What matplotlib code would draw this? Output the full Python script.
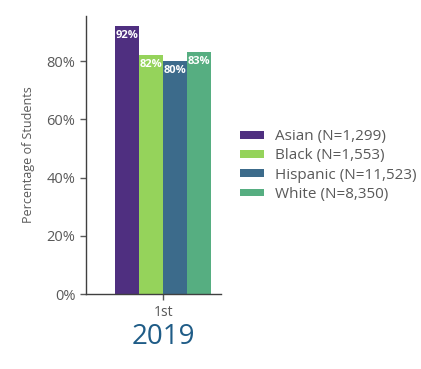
import numpy as np
import matplotlib
matplotlib.use('Agg')
import matplotlib.pyplot as plt
from matplotlib.ticker import FuncFormatter

plt.rcParams['font.family'] = ['Open Sans', 'DejaVu Sans']

# data
groups = ['Asian (N=1,299)', 'Black (N=1,553)', 'Hispanic (N=11,523)', 'White (N=8,350)']
values = [92, 82, 80, 83]
colors = ['#4f2f80', '#95d35b', '#3c6b8b', '#56ae81']
grade = '1st'
year = '2019'

fig = plt.figure(figsize=(4.21, 3.69), dpi=100)
ax = fig.add_axes([0.204, 0.203, 0.321, 0.754])

w = 0.2
offsets = (np.arange(len(values)) - 1.5) * w
for i in range(len(values)):
    ax.bar(offsets[i], values[i], width=w, color=colors[i], label=groups[i])
    ax.text(offsets[i], values[i] - 1.3, '{}%'.format(values[i]), ha='center', va='top',
            color='white', fontsize=8, fontweight='bold')

ax.set_xlim(-0.64, 0.48)
ax.set_ylim(0, 95.5)
ax.set_yticks([0, 20, 40, 60, 80])
ax.yaxis.set_major_formatter(FuncFormatter(lambda v, p: '{:.0f}%'.format(v)))
ax.set_xticks([0])
ax.set_xticklabels([grade])
ax.spines['top'].set_visible(False)
ax.spines['right'].set_visible(False)
for s in ['left', 'bottom']:
    ax.spines[s].set_color('#404040')
    ax.spines[s].set_linewidth(1.0)
ax.tick_params(colors='#595959', labelsize=10.5, length=4, width=1)
ax.tick_params(axis='x', labelsize=10)
ax.set_ylabel('Percentage of Students', color='#595959', fontsize=9, labelpad=8)

fig.text(0.387, 0.087, year, ha='center', va='center', fontsize=20, color='#1f5c87')

ax.legend(loc='center left', bbox_to_anchor=(1.14, 0.462), frameon=False, fontsize=11,
          labelcolor='#595959', handlelength=1.6, handleheight=0.4, handletextpad=0.7,
          labelspacing=0.28, borderaxespad=0, borderpad=0)

plt.savefig('out.png', dpi=100)
